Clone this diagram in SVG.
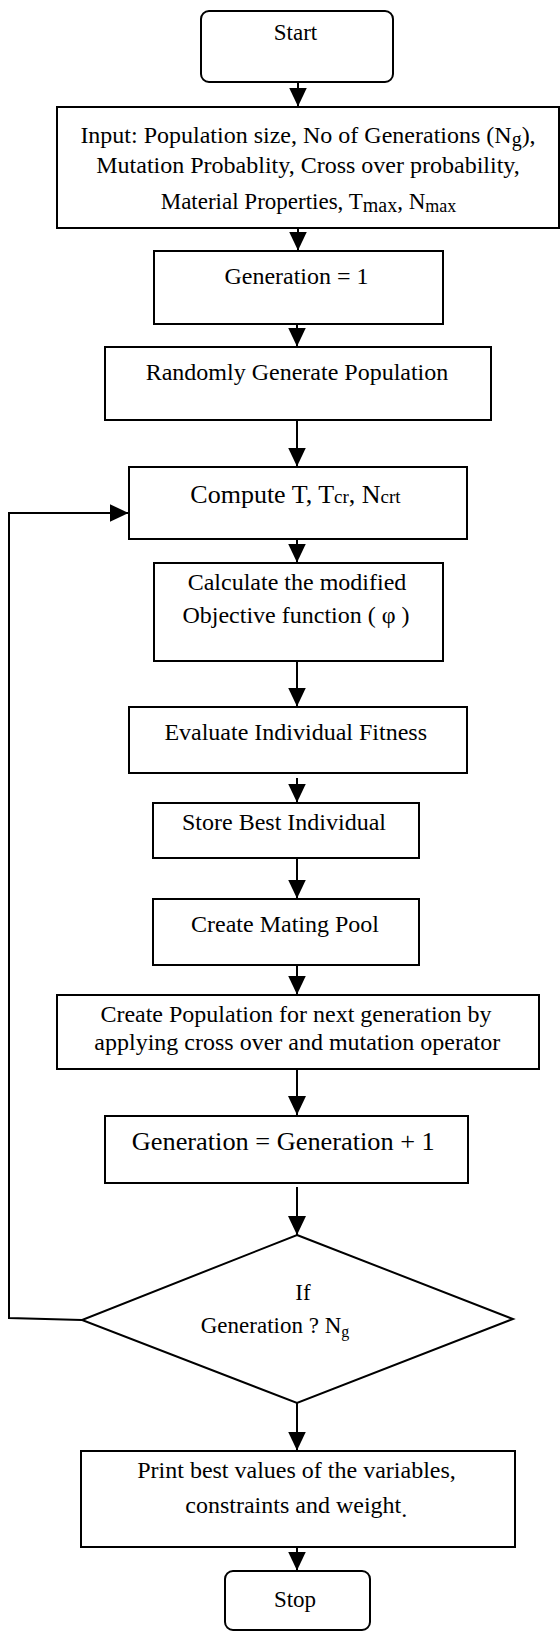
<svg xmlns="http://www.w3.org/2000/svg" width="560" height="1632" viewBox="0 0 560 1632">
<style>
.box{fill:#fff;stroke:#000;stroke-width:2}
.conn{fill:none;stroke:#000;stroke-width:2;marker-end:url(#ah)}
.t{font-family:"Liberation Serif","Times New Roman",serif;font-size:24px;text-anchor:middle;fill:#000}
.big{font-size:26px}
.dia{font-size:23px}
</style>
<defs>
<marker id="ah" markerUnits="userSpaceOnUse" viewBox="0 0 19 18" markerWidth="19" markerHeight="18" refX="19" refY="9" orient="auto">
<path d="M0,0 L19,9 L0,18 Z" fill="#000"/>
</marker>
</defs>
<rect x="0" y="0" width="560" height="1632" fill="#fff"/>

<g id="connectors">
<line class="conn" x1="298" y1="82" x2="298" y2="106.5"/>
<line class="conn" x1="298" y1="228" x2="298" y2="250.5"/>
<line class="conn" x1="297" y1="323" x2="297" y2="346.5"/>
<line class="conn" x1="297" y1="420" x2="297" y2="466.5"/>
<line class="conn" x1="297" y1="538" x2="297" y2="562.5"/>
<line class="conn" x1="297" y1="661" x2="297" y2="706.5"/>
<line class="conn" x1="297" y1="778" x2="297" y2="802.5"/>
<line class="conn" x1="297" y1="854" x2="297" y2="898.5"/>
<line class="conn" x1="297" y1="965" x2="297" y2="994.5"/>
<line class="conn" x1="297" y1="1067" x2="297" y2="1115"/>
<line class="conn" x1="297" y1="1187" x2="297" y2="1235"/>
<line class="conn" x1="297" y1="1403" x2="297" y2="1450.5"/>
<line class="conn" x1="297" y1="1545" x2="297" y2="1570.5"/>
<polyline class="conn" points="82,1320 9,1318 9,513 128.5,513"/>
</g>

<g id="start">
<rect class="box" x="201" y="11" width="192" height="71" rx="8"/>
<text class="t" x="295.5" y="40" style="font-size:23px">Start</text>
</g>

<g id="input">
<rect class="box" x="57" y="107" width="502" height="121"/>
<text class="t" x="308" y="142.7">Input: Population size, No of Generations (N<tspan font-size="20" dy="3">g</tspan><tspan dy="-3">),</tspan></text>
<text class="t" x="308" y="172.7">Mutation Probablity, Cross over probability,</text>
<text class="t" x="308.5" y="208.5" style="font-size:23px">Material Properties,  T<tspan font-size="20" dy="3">max</tspan><tspan dy="-3">, N</tspan><tspan font-size="18" dy="3">max</tspan></text>
</g>

<g id="gen1">
<rect class="box" x="154" y="251" width="289" height="73"/>
<text class="t" x="296.5" y="283.5">Generation = 1</text>
</g>

<g id="random">
<rect class="box" x="105" y="347" width="386" height="73"/>
<text class="t" x="297" y="380">Randomly Generate Population</text>
</g>

<g id="compute">
<rect class="box" x="129" y="467" width="338" height="72"/>
<text class="t big" x="295.5" y="503">Compute T, T<tspan font-size="19">cr</tspan>, N<tspan font-size="19">crt</tspan></text>
</g>

<g id="calculate">
<rect class="box" x="154" y="563" width="289" height="98"/>
<text class="t" x="297" y="590">Calculate the modified</text>
<text class="t" x="296" y="623.3">Objective function ( φ )</text>
</g>

<g id="evaluate">
<rect class="box" x="129" y="707" width="338" height="66"/>
<text class="t" x="295.7" y="740">Evaluate Individual Fitness</text>
</g>

<g id="store">
<rect class="box" x="153" y="803" width="266" height="55"/>
<text class="t" x="284" y="830">Store Best Individual</text>
</g>

<g id="mating">
<rect class="box" x="153" y="899" width="266" height="66"/>
<text class="t" x="285" y="931.7">Create Mating Pool</text>
</g>

<g id="createpop">
<rect class="box" x="57" y="995" width="482" height="74"/>
<text class="t" x="296" y="1021.7">Create Population for next generation by</text>
<text class="t" x="297.3" y="1050">applying cross over and mutation operator</text>
</g>

<g id="genplus">
<rect class="box" x="105" y="1116" width="363" height="67"/>
<text class="t big" x="283.3" y="1150" textLength="303" lengthAdjust="spacingAndGlyphs">Generation = Generation + 1</text>
</g>

<g id="decision">
<polygon class="box" points="297,1235 513,1319 297,1403 82,1320"/>
<text class="t dia" x="303" y="1300">If</text>
<text class="t dia" x="275" y="1333.3">Generation ? N<tspan font-size="16" dy="4">g</tspan></text>
</g>

<g id="print">
<rect class="box" x="81" y="1451" width="434" height="96"/>
<text class="t" x="296.5" y="1478.3">Print best values of the variables,</text>
<text class="t" x="296.3" y="1513.3">constraints and weight<tspan dy="4">.</tspan></text>
</g>

<g id="stop">
<rect class="box" x="225" y="1571" width="145" height="59" rx="8"/>
<text class="t" x="295" y="1607.3" style="font-size:23px">Stop</text>
</g>
</svg>
